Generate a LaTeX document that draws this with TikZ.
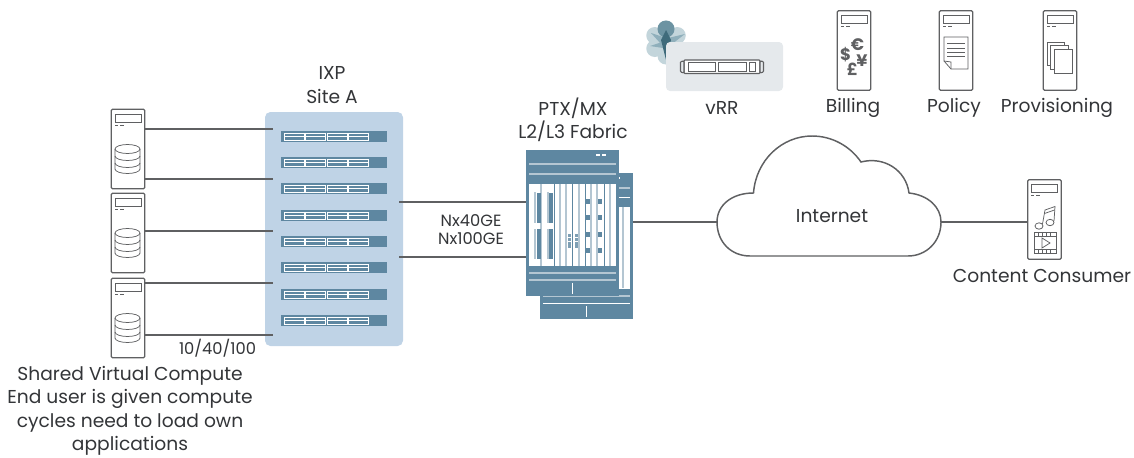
\documentclass[tikz,border=0pt]{standalone}
\usepackage{fontspec}
\setmainfont{Poppins}
\definecolor{linegray}{HTML}{5F6062}
\definecolor{textgray}{HTML}{333538}
\definecolor{panelblue}{HTML}{BFD3E6}
\definecolor{steel}{HTML}{5E87A1}
\definecolor{railgray}{HTML}{B4C6D2}
\definecolor{vrrgray}{HTML}{E5E9EC}
\definecolor{petal}{HTML}{C3D5DB}
\definecolor{petalmid}{HTML}{8FAFBB}
\definecolor{petaldark}{HTML}{6C93A2}
\definecolor{stardark}{HTML}{3F6B7B}
\tikzset{
  lnk/.style={draw=linegray, line width=0.9pt},
  srvbox/.style={draw=linegray, fill=white, line width=0.95pt, rounded corners=0.8pt, minimum width=25pt, minimum height=59.5pt, inner sep=0pt},
  lbl/.style={text=textgray, font=\fontsize{14}{17.6}\selectfont, align=center, inner sep=0pt},
  smalllbl/.style={text=textgray, font=\fontsize{12.2}{13}\selectfont, align=center, inner sep=0pt},
  icon/.style={draw=linegray, line width=0.55pt},
  swbox/.style={fill=steel, minimum width=79.5pt, minimum height=8.2pt, inner sep=0pt},
  chassis/.style={fill=steel, minimum width=69.75pt, minimum height=109.5pt, inner sep=0pt},
  rail/.style={draw=railgray, line width=0.8pt},
  % top of a server, from its top left corner
  srvtop/.pic={
    \draw[icon] (4,5) rectangle (30,13);
    \draw[linegray, line width=0.55pt] (4,16) -- (7,16) (9,16) -- (13,16);
  },
  diskstack/.pic={
    \draw[icon, fill=white] (0,14) -- (0,-6) arc (180:0:12.5 and -4.5) -- (25,14);
    \draw[icon] (0,-6) arc (180:360:12.5 and -4.5);
    \draw[icon] (0,1) arc (180:360:12.5 and -4.5);
    \draw[icon] (0,8) arc (180:360:12.5 and -4.5);
    \draw[icon] (0,14) arc (180:360:12.5 and -4.5);
  },
}
\begin{document}
\begin{tikzpicture}[x=0.75pt, y=-0.75pt]
\useasboundingbox (0,0) rectangle (1134,457);

% IXP panel and switches
\node[fill=panelblue, rounded corners=4pt, minimum width=103.5pt, minimum height=175.5pt, inner sep=0pt] (panelA) at (334,229) {};
\foreach \name/\y in {swA/136.5, swB/162.5, swC/188.5, swD/215.5, swE/241.5, swF/267.5, swG/294.5, swH/320.5} {
  \node[swbox] (\name) at (334,\y) {};
  \foreach \x in {284,305.5,327,348} {
    \draw[white, line width=0.6pt] (\x,\y-3.6) rectangle (\x+20,\y+3.6);
    \draw[white, line width=0.6pt] (\x,\y) -- (\x+20,\y);
  }
}
\node[lbl] (ixpname) at (332,85) {IXP\\Site A};

% compute servers
\node[srvbox] (srvA) at (128,149) {};
\node[srvbox] (srvB) at (128,233) {};
\node[srvbox] (srvC) at (128,318) {};
\path (111,109) pic {srvtop} (115,155) pic {diskstack};
\path (111,193) pic {srvtop} (115,239) pic {diskstack};
\path (111,278) pic {srvtop} (115,324) pic {diskstack};

\coordinate (tapA) at (273,129);
\coordinate (tapB) at (273,179);
\coordinate (tapC) at (273,231);
\coordinate (tapD) at (273,283);
\coordinate (tapE) at (273,335);
\draw[lnk] (tapA -| srvA.east) -- (tapA);
\draw[lnk] (tapB -| srvA.east) -- (tapB);
\draw[lnk] (tapC -| srvB.east) -- (tapC);
\draw[lnk] (tapD -| srvC.east) -- (tapD);
\draw[lnk] (tapE -| srvC.east) -- (tapE);

\node[smalllbl] (speedlbl) at (217.5,348) {10/40/100};
\node[lbl] (computelbl) at (130,411) {Shared Virtual Compute\\End user is given compute\\cycles need to load own\\applications};

% fabric chassis
\node[chassis] (chassisB) at (586.5,246) {};
\fill[white] (619,207) rectangle (630,289);
\draw[rail] (623,207) -- (623,288);
\draw[rail] (619,188) -- (630,188);
\draw[white, line width=0.7pt] (619,197) -- (630,197);
\draw[white, line width=0.7pt] (619.5,177) -- (619.5,179);
\draw[rail] (543,296) -- (630,296);
\draw[white, line width=0.7pt] (543,303) -- (630,303);
\draw[white, line width=0.7pt] (586,306) -- (586,317);
\node[chassis] (chassisA) at (572.5,223) {};
\fill[white] (529,184) rectangle (616,266);
\foreach \x in {535,541,548,560,566,579,591,597,610} {
  \draw[railgray, line width=1.1pt] (\x,184) -- (\x,266);
}
\foreach \x in {554,572,585,604} {
  \draw[steel, line width=0.7pt] (\x,184) -- (\x,266);
}
\foreach \x in {537,549} {
  \fill[steel] (\x,193) rectangle (\x+4,223);
  \fill[steel] (\x,229) rectangle (\x+4,259);
  \fill[white] (\x-4,184) rectangle (\x+1,192);
  \fill[white] (\x-4,223) rectangle (\x+1,229);
  \fill[white] (\x-4,259) rectangle (\x+1,266);
}
\foreach \x in {586,598} {
  \foreach \y in {199,215,232,248} {
    \fill[steel] (\x,\y) rectangle (\x+3.5,\y+4.5);
  }
}
\foreach \x in {568,575} {
  \foreach \y in {234,238,242,245} {
    \fill[steel!80] (\x,\y) rectangle (\x+2.5,\y+2.5);
  }
}
\draw[rail] (529,164) -- (616,164);
\draw[rail] (529,174) -- (616,174);
\draw[rail] (529,273) -- (616,273);
\draw[rail] (529,280) -- (616,280);
\draw[white, line width=0.7pt] (572,283) -- (572,294);
\fill[white] (596,154) rectangle (600,156);
\fill[white] (602,154) rectangle (606,156);
\node[lbl] (fabriclbl) at (573,120) {PTX/MX\\L2/L3 Fabric};

\coordinate (uplinkA) at (399,202);
\coordinate (uplinkB) at (399,257);
\draw[lnk] (uplinkA) -- (uplinkA -| chassisA.west);
\draw[lnk] (uplinkB) -- (uplinkB -| chassisA.west);
\node[smalllbl] (uplinklbl) at (471,229.5) {Nx40GE\\Nx100GE};

% internet cloud
\coordinate (cloudW) at (717,222);
\coordinate (cloudE) at (941,222);
\draw[lnk] (cloudW -| chassisB.east) -- (cloudW);
\draw[line width=1.1pt, draw=linegray, fill=white] (753.5,193)
  .. controls (756,160) and (782,136) .. (812,136)
  .. controls (832,136) and (850,146) .. (861,162)
  .. controls (884,156) and (906,170) .. (909,193)
  .. controls (928,195) and (941,207) .. (941,222)
  .. controls (941,242) and (926,256) .. (908,256)
  -- (750,256)
  .. controls (731,256) and (717,242) .. (717,222)
  .. controls (717,205) and (732,193) .. (753.5,193) -- cycle;
\node[lbl] (internetlbl) at (832,216.5) {Internet};

% content consumer
\node[srvbox] (srvD) at (1044.5,219.5) {};
\draw[lnk] (cloudE) -- (cloudE -| srvD.west);
\path (1027,179) pic {srvtop};
\draw[icon] (1042.5,224) -- (1045,210) -- (1055,206.5) -- (1054,221);
\draw[icon] (1044.5,213.5) -- (1054.5,210);
\draw[icon] (1039,226) ellipse (4 and 3.2);
\draw[icon] (1050,222.5) ellipse (4 and 3.2);
\draw[icon] (1034,232) rectangle (1056,253);
\draw[icon] (1034,236) -- (1056,236) (1034,249) -- (1056,249);
\foreach \x in {1038,1042,1046,1050} {
  \draw[icon] (\x,232) -- (\x,236) (\x,249) -- (\x,253);
}
\draw[icon] (1042,238) -- (1050,243) -- (1042,248) -- cycle;
\node[lbl] (consumerlbl) at (1042,276) {Content Consumer};

% vRR
\foreach \a in {30,150,210,270,330} {
  \fill[petal] ({666+13*cos(\a)},{42+13*sin(\a)}) circle [radius=8.5];
}
\fill[petal] (666,56) circle [radius=8.5];
\fill[petaldark] (666,29) circle [radius=8.5];
\fill[petalmid] (651,33) -- (666,38) -- (661,44) -- cycle;
\fill[petalmid] (685,34) -- (672,44) -- (668,38) -- cycle;
\fill[petalmid] (650,46) -- (662,42) -- (663,48) -- cycle;
\fill[stardark] (666,30) -- (671,40) -- (666,60) -- (661,40) -- cycle;
\node[fill=vrrgray, rounded corners=3pt, minimum width=87.75pt, minimum height=36.75pt, inner sep=0pt] (vrrbox) at (724.5,66.5) {};
\draw[linegray, line width=0.8pt, rounded corners=0.7pt, fill=white] (684,60) rectangle (760,73.5);
\draw[linegray, line width=0.8pt, rounded corners=0.7pt, fill=vrrgray] (680.5,61.5) -- (684,61) -- (684,73) -- (680.5,72) -- cycle;
\draw[linegray, line width=0.8pt, rounded corners=0.7pt, fill=vrrgray] (763.5,61.5) -- (760,61) -- (760,73) -- (763.5,72) -- cycle;
\draw[icon] (688.5,62.5) rectangle (715,71);
\draw[icon] (718.5,62.5) rectangle (746,71);
\draw[icon] (749,62.5) rectangle (755.5,71);
\node[lbl] (vrrlbl) at (722,107.5) {vRR};

% billing
\node[srvbox] (srvE) at (854,50.5) {};
\path (837,10) pic {srvtop};
\node[text=linegray, inner sep=0pt, font=\fontsize{12.5}{14}\bfseries\selectfont] (dollar) at (845.5,54.5) {\$};
\node[text=linegray, inner sep=0pt, font=\fontsize{12.5}{14}\bfseries\selectfont] (euro) at (857.5,45) {€};
\node[text=linegray, inner sep=0pt, font=\fontsize{12.5}{14}\bfseries\selectfont] (yen) at (862,60.5) {¥};
\node[text=linegray, inner sep=0pt, font=\fontsize{12.5}{14}\bfseries\selectfont] (pound) at (852.5,69.5) {£};
\node[lbl] (billinglbl) at (853,107.5) {Billing};

% policy
\node[srvbox] (srvF) at (956,50.5) {};
\path (939,10) pic {srvtop};
\draw[icon] (944,37) -- (968,37) -- (968,69) -- (951,69) -- (944,61) -- cycle;
\draw[icon] (951,69) -- (951,62) -- (944,61);
\foreach \y in {43,48,52,56} {
  \draw[icon] (947,\y) -- (965,\y);
}
\node[lbl] (policylbl) at (954,107.5) {Policy};

% provisioning
\node[srvbox] (srvG) at (1060,50.5) {};
\path (1043,10) pic {srvtop};
\draw[icon, fill=white] (1047,42) rectangle (1064,65);
\draw[icon, fill=white] (1050.5,45.5) rectangle (1068,69);
\draw[icon, fill=white] (1054,49) rectangle (1072,73);
\node[lbl] (provisionlbl) at (1057,107.5) {Provisioning};
\end{tikzpicture}
\end{document}
